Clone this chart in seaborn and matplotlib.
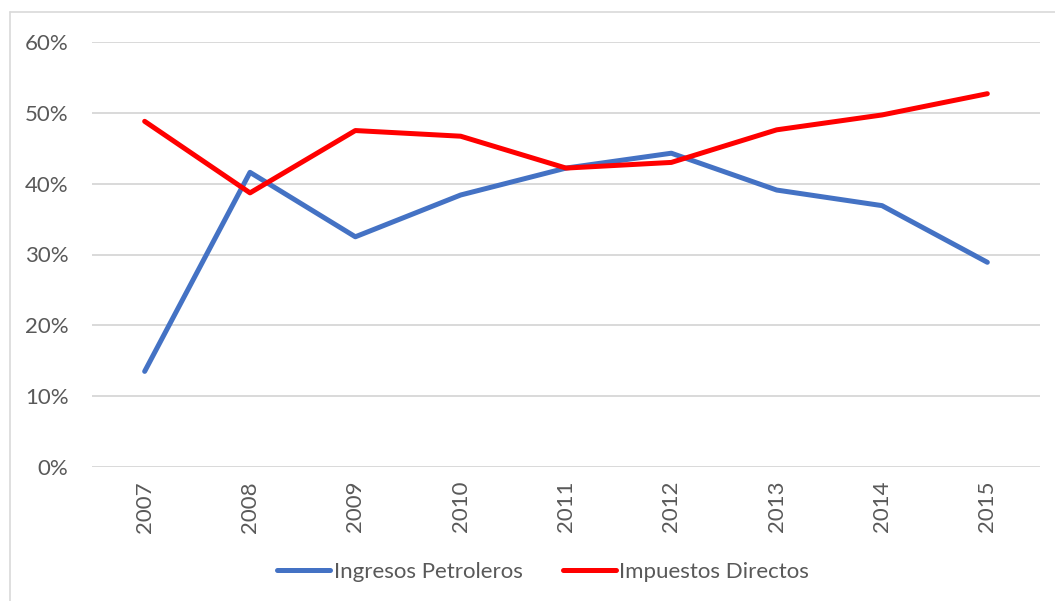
import matplotlib
matplotlib.use("Agg")
import matplotlib.pyplot as plt
from matplotlib.lines import Line2D
from matplotlib.ticker import PercentFormatter
import seaborn as sns
import pandas as pd

years = ["2007", "2008", "2009", "2010", "2011", "2012", "2013", "2014", "2015"]
ingresos_petroleros = [0.135, 0.416, 0.325, 0.384, 0.422, 0.443, 0.391, 0.369, 0.289]
impuestos_directos = [0.488, 0.387, 0.475, 0.467, 0.422, 0.430, 0.476, 0.497, 0.527]
series_names = ["Ingresos Petroleros", "Impuestos Directos"]
y_ticks = [0.0, 0.1, 0.2, 0.3, 0.4, 0.5, 0.6]

df = pd.DataFrame({
    "Año": years * 2,
    "Valor": ingresos_petroleros + impuestos_directos,
    "Serie": [series_names[0]] * len(years) + [series_names[1]] * len(years),
})

sns.set_theme(style="white")
plt.rcParams["font.family"] = ["Lato", "DejaVu Sans"]
text_color = "#595959"
grid_color = "#d9d9d9"
fs = 16

fig = plt.figure(figsize=(10.55, 6.01), dpi=100)
ax = fig.add_axes([92 / 1055, 1 - 467 / 601, (1040 - 92) / 1055, (467 - 42) / 601])

palette = {series_names[0]: "#4472c4", series_names[1]: "#ff0000"}
sns.lineplot(data=df, x="Año", y="Valor", hue="Serie", palette=palette,
             linewidth=3.6, ax=ax, sort=False, legend=False,
             solid_capstyle="round", solid_joinstyle="round")

ax.set_xlim(-0.5, len(years) - 0.5)
ax.set_ylim(0, 0.6)
ax.set_yticks(y_ticks)
ax.yaxis.set_major_formatter(PercentFormatter(1.0, decimals=0))
ax.grid(axis="y", color=grid_color, linewidth=1.4)
ax.set_axisbelow(True)
for s in ax.spines.values():
    s.set_visible(False)
ax.set_xlabel("")
ax.set_ylabel("")
ax.tick_params(axis="y", length=0, pad=17, labelsize=fs, labelcolor=text_color)
ax.tick_params(axis="x", length=0, pad=10, labelsize=fs, labelcolor=text_color,
               labelrotation=90)

# Chart-area frame lines (left and top edges)
fig.add_artist(Line2D([10 / 1055, 10 / 1055], [0, 1 - 12 / 601],
                      transform=fig.transFigure, color=grid_color, linewidth=1.2))
fig.add_artist(Line2D([10 / 1055, 1], [1 - 12 / 601, 1 - 12 / 601],
                      transform=fig.transFigure, color=grid_color, linewidth=1.2))

handles = [Line2D([], [], color=palette[n], linewidth=3.6, solid_capstyle="round")
           for n in series_names]
fig.legend(handles, series_names, loc="center", bbox_to_anchor=(543 / 1055, 1 - 572 / 601),
           ncol=2, frameon=False, fontsize=fs, labelcolor=text_color,
           handlelength=2.4, handletextpad=0.15, columnspacing=1.8)

fig.savefig("out.png", dpi=100)
